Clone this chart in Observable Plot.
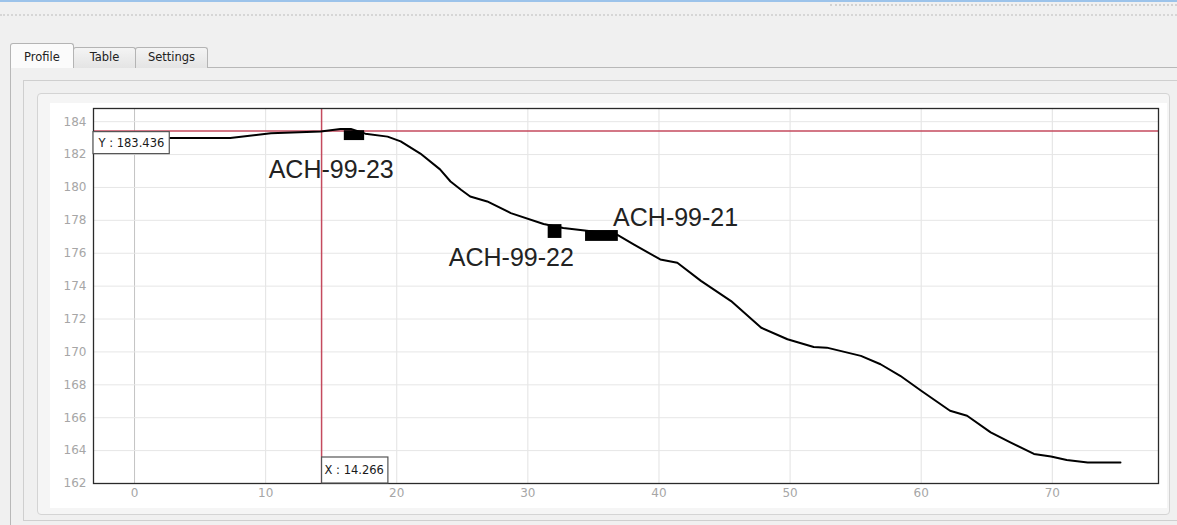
<!DOCTYPE html>
<html>
<head>
<meta charset="utf-8">
<script src="https://cdn.jsdelivr.net/npm/d3@7"></script>
<script src="https://cdn.jsdelivr.net/npm/@observablehq/plot@0.6"></script>
<style>
  html, body { margin: 0; padding: 0; }
  body { width: 1177px; height: 525px; background: #f0f0f0; position: relative; overflow: hidden; font-family: "DejaVu Sans", sans-serif; }
  .abs { position: absolute; box-sizing: border-box; }
  .topline { left: 0; top: 0; width: 1177px; height: 2px; background: #9cc3ea; }
  .dots1 { left: 0; top: 14px; width: 1177px; height: 0; border-top: 2px dotted #d6d6d6; }
  .dots2 { left: 830px; top: 4px; width: 347px; height: 0; border-top: 2px dotted #d2d2d2; }
  .tab { top: 47px; height: 21px; border: 1px solid #b4b4b4; border-bottom: none; border-radius: 3px 3px 0 0;
         background: linear-gradient(#f4f4f4, #e4e4e4); font-size: 11.5px; color: #222; text-align: center; line-height: 19px; }
  .tab.sel { top: 43px; height: 25px; background: #fbfbfb; line-height: 26px; z-index: 2; }
  .pane { left: 10px; top: 67px; width: 1180px; height: 470px; border: 1px solid #b8b8b8; background: #f0f0f0; }
  .group { left: 23px; top: 80px; width: 1170px; height: 441px; border: 1px solid #cfcfcf; }
  .widget { left: 37px; top: 93px; width: 1133px; height: 422px; border: 1px solid #d4d4d4; border-radius: 4px; background: #f5f5f5; }
  #chart { left: 50px; top: 103px; width: 1117px; height: 405px; background: #fff; }
  #chart svg { display: block; }
</style>
</head>
<body>
<div class="abs topline"></div>
<div class="abs dots2"></div>
<div class="abs dots1"></div>
<div class="abs pane"></div>
<div class="abs tab sel" style="left:10px;width:64px;">Profile</div>
<div class="abs tab" style="left:73px;width:63px;">Table</div>
<div class="abs tab" style="left:135px;width:73px;">Settings</div>
<div class="abs group"></div>
<div class="abs widget"></div>
<div class="abs" id="chart"></div>
<script>
// Profile distance (x) and elevation (y)
const profileX = [0, 7.3, 10.4, 14.2, 15.7, 16.5, 17.6, 19.3, 20.3, 21.8, 23.3,
  24.1, 24.9, 25.6, 26.9, 28.7, 31.2, 32.7, 34.5, 36.8, 38.1,
  40.1, 41.4, 43.2, 45.5, 47.8, 49.8, 51.8, 52.8, 55.4, 56.9,
  58.4, 60.0, 62.2, 63.5, 65.3, 66.8, 68.6, 69.9, 71.1, 72.7, 75.2];
const profileY = [183.0, 183.0, 183.3, 183.4, 183.55, 183.55, 183.27, 183.09, 182.8, 182.06, 181.1,
  180.36, 179.86, 179.45, 179.15, 178.44, 177.78, 177.53, 177.37, 177.13, 176.53,
  175.62, 175.42, 174.32, 173.09, 171.47, 170.77, 170.30, 170.26, 169.76, 169.25,
  168.55, 167.64, 166.42, 166.12, 165.11, 164.50, 163.80, 163.64, 163.43, 163.27, 163.27];

// Boreholes
const holeNames = ["ACH-99-23", "ACH-99-22", "ACH-99-21"];
const holeX1 = [16.0, 31.55, 34.4];
const holeX2 = [17.55, 32.6, 36.9];
const holeYBottom = [182.85, 176.9, 176.72];
const holeYTop = [183.45, 177.74, 177.38];
const labelX = [15.0, 28.74, 41.27];
const labelY = [181.07, 175.72, 178.17];

// Cursor
const cursorX = 14.266;
const cursorY = 183.436;

// Axis ticks
const xTicks = [0, 10, 20, 30, 40, 50, 60, 70];
const yTicks = [162, 164, 166, 168, 170, 172, 174, 176, 178, 180, 182, 184];
const xDomain = [-3.13, 78.1];
const yDomain = [162, 184.8];

const profile = profileX.map((x, i) => ({x, y: profileY[i]}));
const holes = holeNames.map((name, i) => ({name, x1: holeX1[i], x2: holeX2[i], y1: holeYBottom[i], y2: holeYTop[i], lx: labelX[i], ly: labelY[i]}));

const red = "#c44a5e";
const chart = Plot.plot({
  width: 1117,
  height: 405,
  marginLeft: 43,
  marginRight: 9,
  marginTop: 5,
  marginBottom: 25,
  style: {fontFamily: "DejaVu Sans", fontSize: "12px", background: "#fff", overflow: "visible"},
  x: {domain: xDomain, ticks: xTicks, label: null},
  y: {domain: yDomain, ticks: yTicks, label: null},
  marks: [
    Plot.gridX(xTicks.filter(d => d !== 0), {stroke: "#e2e2e2", strokeOpacity: 1}),
    Plot.gridX([0], {stroke: "#c4c4c4", strokeOpacity: 1}),
    Plot.gridY(yTicks, {stroke: "#e6e6e6", strokeOpacity: 1}),
    Plot.axisX(xTicks, {tickSize: 0, tickPadding: 5, fill: "#a6a6a6", fontSize: 12}),
    Plot.axisY(yTicks, {tickSize: 0, tickPadding: 7, fill: "#a6a6a6", fontSize: 12}),
    Plot.ruleX([cursorX], {stroke: red, strokeWidth: 1.5}),
    Plot.ruleY([cursorY], {stroke: red, strokeWidth: 1.5}),
    Plot.line(profile, {x: "x", y: "y", stroke: "#000", strokeWidth: 2}),
    Plot.rect(holes, {x1: "x1", x2: "x2", y1: "y1", y2: "y2", fill: "#000"}),
    Plot.text(holes, {x: "lx", y: "ly", text: "name", fontSize: 25, fontFamily: "Liberation Sans", fill: "#222", textAnchor: "middle", lineAnchor: "middle"}),
    Plot.frame({stroke: "#2a2a2a", strokeWidth: 1.3}),
    Plot.text([cursorY], {y: d => d, frameAnchor: "left", text: d => "Y : " + d.toFixed(3), dx: 5, dy: 12, textAnchor: "start", fontSize: 11.5, fill: "#1a1a1a"}),
    Plot.text([cursorX], {x: d => d, frameAnchor: "bottom", text: d => "X : " + d.toFixed(3), dx: 3, dy: -13, textAnchor: "start", lineAnchor: "middle", fontSize: 11.5, fill: "#1a1a1a"})
  ]
});
document.getElementById("chart").appendChild(chart);

// Draw boxes behind the cursor value labels
const svg = chart.tagName.toLowerCase() === "svg" ? chart : chart.querySelector("svg");
svg.querySelectorAll("text").forEach(t => {
  const s = t.textContent;
  if (s.startsWith("Y : ") || s.startsWith("X : ")) {
    const b = t.getBBox();
    const ctm = t.getCTM();
    const sctm = svg.getCTM();
    const m = sctm.inverse().multiply(ctm);
    const x0 = b.x * m.a + m.e, y0 = b.y * m.d + m.f;
    const rect = document.createElementNS("http://www.w3.org/2000/svg", "rect");
    let rx, ry, rw, rh;
    if (s.startsWith("Y")) {
      rx = 43; rw = (x0 + b.width + 5) - 43;
      ry = y0 - 4; rh = b.height + 8;
    } else {
      rx = x0 - 3; rw = b.width + 7;
      rh = 26; ry = 405 - 25 - rh;
    }
    rect.setAttribute("x", rx); rect.setAttribute("y", ry);
    rect.setAttribute("width", rw); rect.setAttribute("height", rh);
    rect.setAttribute("fill", "#fff"); rect.setAttribute("stroke", "#555"); rect.setAttribute("stroke-width", "1.2");
    const g = t.parentNode;
    g.parentNode.insertBefore(rect, g);
  }
});
</script>
</body>
</html>
